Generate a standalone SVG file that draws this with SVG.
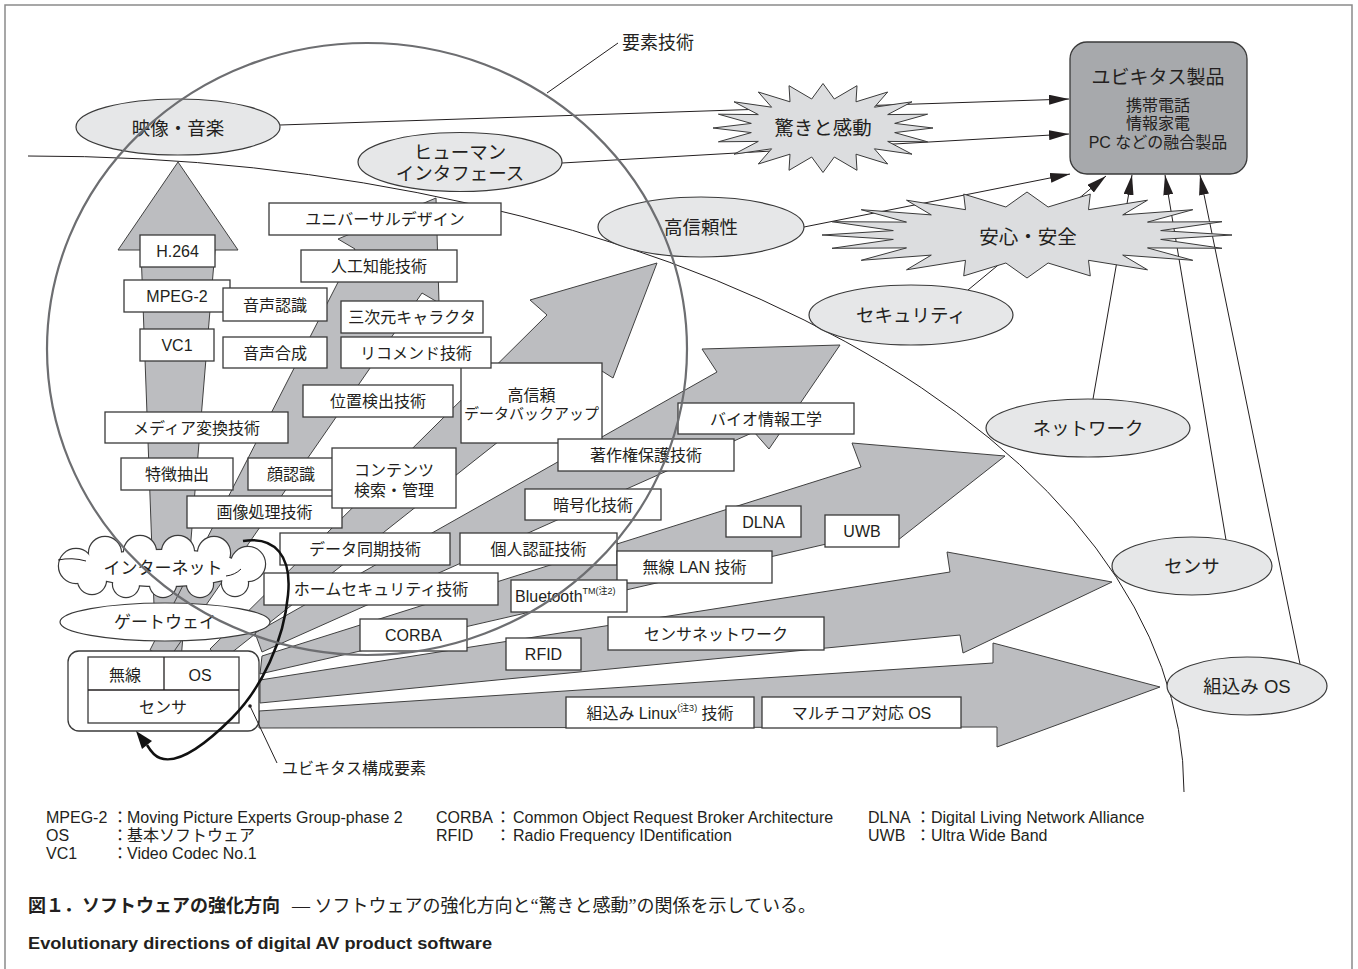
<svg xmlns="http://www.w3.org/2000/svg" width="1358" height="969" viewBox="0 0 1358 969">
<defs>
<style>
.t{font-family:'Liberation Sans','Noto Sans CJK JP',sans-serif;font-size:16px;fill:#231f20;text-anchor:middle}
.tl{font-family:'Liberation Sans','Noto Sans CJK JP',sans-serif;font-size:16px;fill:#231f20}
.big{font-size:18.5px}
.box{fill:#fff;stroke:#3a3a3a;stroke-width:1.3}
.arr{fill:#bcbdc0;stroke:#404040;stroke-width:1}
.ell{fill:#e6e7e8;stroke:#3a3a3a;stroke-width:1.2}
.star{fill:#dcdddf;stroke:#3a3a3a;stroke-width:1}
.ln{fill:none;stroke:#231f20;stroke-width:1}
</style>
<marker id="ah" markerUnits="userSpaceOnUse" markerWidth="20" markerHeight="10" refX="20" refY="5" orient="auto"><path d="M0,0 L20,5 L0,10 Z" fill="#231f20"/></marker>
<g id="cloudShape">
<circle cx="76" cy="566" r="17"/><circle cx="105" cy="553" r="16"/><circle cx="140" cy="552" r="16"/><circle cx="178" cy="552" r="16"/><circle cx="214" cy="553" r="16"/><circle cx="248" cy="564" r="17"/><circle cx="235" cy="583" r="13"/><circle cx="200" cy="584" r="13"/><circle cx="163" cy="584" r="13"/><circle cx="126" cy="584" r="13"/><circle cx="92" cy="580" r="14"/><ellipse cx="163" cy="568" rx="80" ry="18"/>
</g>
</defs>
<rect x="5" y="5" width="1347" height="975" fill="#fff" stroke="#8a8a8a" stroke-width="1.5"/>

<g id="connectors">
<path class="ln" d="M28,156 A1152,636 0 0 1 1184,792"/>
<line class="ln" x1="547" y1="93" x2="618" y2="43"/>
<line class="ln" x1="280" y1="125" x2="1069" y2="99" marker-end="url(#ah)"/>
<line class="ln" x1="562" y1="163" x2="1069" y2="134" marker-end="url(#ah)"/>
<line class="ln" x1="804" y1="227" x2="1070" y2="174" marker-end="url(#ah)"/>
<line class="ln" x1="968" y1="290" x2="1106" y2="176" marker-end="url(#ah)"/>
<line class="ln" x1="1093" y1="399" x2="1132" y2="175" marker-end="url(#ah)"/>
<line class="ln" x1="1226" y1="540" x2="1165" y2="175" marker-end="url(#ah)"/>
<line class="ln" x1="1300" y1="664" x2="1200" y2="175" marker-end="url(#ah)"/>
</g>

<g id="bigArrows">
<polygon class="arr" points="156,660 141,250 118,250 178,162 238,250 215,250 181,660"/>
<polygon class="arr" points="150,650 355,249 338,239 436,198 439,303 422,293 168,660"/>
<polygon class="arr" points="210,649 547,315 530,300 657,263 613,378 594,366 221,661"/>
<polygon class="arr" points="255,633 717,372 702,349 840,345 769,449 754,432 262,652"/>
<polygon class="arr" points="262,656 861,467 852,443 1005,456 893,544 870,534 260,674"/>
<polygon class="arr" points="260,680 950,572 947,552 1112,582 963,653 960,635 260,703"/>
<polygon class="arr" points="259,711 993,663 993,643 1160,687 997,747 997,727 259,728"/>
</g>

<g id="n-eizo"><ellipse class="ell" cx="178" cy="127" rx="102" ry="28"/><text class="t big" x="178" y="135">映像・音楽</text></g>
<g id="n-human"><ellipse class="ell" cx="460" cy="162" rx="102" ry="29.5"/><text class="t big" x="460" y="159">ヒューマン</text><text class="t big" x="460" y="180">インタフェース</text></g>
<g id="n-koshinrai"><ellipse class="ell" cx="701" cy="227" rx="103" ry="30"/><text class="t big" x="701" y="234">高信頼性</text></g>
<g id="n-security"><ellipse class="ell" cx="911" cy="315" rx="102" ry="30"/><text class="t big" x="911" y="322">セキュリティ</text></g>
<g id="n-network"><ellipse class="ell" cx="1088" cy="428" rx="102" ry="29"/><text class="t big" x="1088" y="435">ネットワーク</text></g>
<g id="n-sensor"><ellipse class="ell" cx="1192" cy="566" rx="80" ry="29"/><text class="t big" x="1192" y="573">センサ</text></g>
<g id="n-embos"><ellipse class="ell" cx="1247" cy="686" rx="80" ry="29"/><text class="t big" x="1247" y="693">組込み OS</text></g>

<g id="n-odoroki">
<polygon class="star" points="933,128 894.7,132.6 927.6,141.8 887.7,141.4 912,154.2 874.4,148.8 887.7,164 856,154.2 857,170.3 834.3,157 823,172.5 811.7,157 789,170.3 790,154.2 758.3,164 771.6,148.8 734,154.2 758.3,141.4 718.4,141.8 751.3,132.6 713,128 751.3,123.4 718.4,114.2 758.3,114.6 734,101.8 771.6,107.2 758.3,92 790,101.8 789,85.7 811.7,99 823,83.5 834.3,99 857,85.7 856,101.8 887.7,92 874.4,107.2 912,101.8 887.7,114.6 927.6,114.2 894.7,123.4"/>
<text class="t" style="font-size:19.5px" x="823" y="135">驚きと感動</text>
</g>
<g id="n-anshin">
<polygon class="star" points="1232,235 1160.7,239.4 1222,248.3 1147.5,247.9 1192.8,260.3 1122.7,255.1 1147.5,269.8 1088.5,260.3 1090.3,275.9 1048.1,263 1027,278 1005.9,263 963.7,275.9 965.5,260.3 906.5,269.8 931.3,255.1 861.2,260.3 906.5,247.9 832,248.3 893.3,239.4 822,235 893.3,230.6 832,221.7 906.5,222.1 861.2,209.7 931.3,214.9 906.5,200.2 965.5,209.7 963.7,194.1 1005.9,207 1027,192 1048.1,207 1090.3,194.1 1088.5,209.7 1147.5,200.2 1122.7,214.9 1192.8,209.7 1147.5,222.1 1222,221.7 1160.7,230.6"/>
<text class="t" style="font-size:19.5px" x="1028" y="244">安心・安全</text>
</g>

<g id="n-product">
<rect x="1070" y="42" width="177" height="132" rx="17" fill="#a7a9ac" stroke="#3a3a3a" stroke-width="1.3"/>
<text class="t" style="font-size:19px" x="1158" y="84">ユビキタス製品</text>
<text class="t" x="1158" y="111">携帯電話</text>
<text class="t" x="1158" y="129">情報家電</text>
<text class="t" x="1158" y="148">PC などの融合製品</text>
</g>

<g id="n-univ"><rect class="box" x="269" y="203" width="232" height="32"/><text class="t" x="385" y="225">ユニバーサルデザイン</text></g>
<g id="n-h264"><rect class="box" x="140" y="235" width="75" height="32"/><text class="t" x="177.5" y="257">H.264</text></g>
<g id="n-ai"><rect class="box" x="301" y="250" width="156" height="32"/><text class="t" x="379" y="272">人工知能技術</text></g>
<g id="n-mpeg2"><rect class="box" x="124" y="280" width="106" height="32"/><text class="t" x="177" y="302">MPEG-2</text></g>
<g id="n-onsei-ninshiki"><rect class="box" x="223" y="288" width="104" height="33"/><text class="t" x="275" y="310.5">音声認識</text></g>
<g id="n-3d"><rect class="box" x="341" y="301" width="142" height="32"/><text class="t" x="412" y="323">三次元キャラクタ</text></g>
<g id="n-vc1"><rect class="box" x="140" y="329" width="74" height="32"/><text class="t" x="177" y="351">VC1</text></g>
<g id="n-onsei-gosei"><rect class="box" x="223" y="337" width="104" height="31"/><text class="t" x="275" y="358.5">音声合成</text></g>
<g id="n-backup"><rect class="box" x="461" y="363" width="141" height="80"/><text class="t" x="531.5" y="401">高信頼</text><text class="t" style="font-size:15px" x="531.5" y="419">データバックアップ</text></g>
<g id="n-recommend"><rect class="box" x="341" y="337" width="150" height="31"/><text class="t" x="416" y="358.5">リコメンド技術</text></g>
<g id="n-ichi"><rect class="box" x="303" y="385" width="150" height="32"/><text class="t" x="378" y="407">位置検出技術</text></g>
<g id="n-media"><rect class="box" x="105" y="412" width="183" height="31"/><text class="t" x="196.5" y="433.5">メディア変換技術</text></g>
<g id="n-bio"><rect class="box" x="678" y="403" width="176" height="31"/><text class="t" x="766" y="424.5">バイオ情報工学</text></g>
<g id="n-copyright"><rect class="box" x="558" y="439" width="176" height="32"/><text class="t" x="646" y="461">著作権保護技術</text></g>
<g id="n-tokucho"><rect class="box" x="121" y="458" width="112" height="32"/><text class="t" x="177" y="480">特徴抽出</text></g>
<g id="n-kao"><rect class="box" x="248" y="458" width="86" height="32"/><text class="t" x="291" y="480">顔認識</text></g>
<g id="n-gazo"><rect class="box" x="187" y="496" width="155" height="32"/><text class="t" x="264.5" y="518">画像処理技術</text></g>
<g id="n-contents"><rect class="box" x="332" y="448" width="124" height="60"/><text class="t" x="394" y="476">コンテンツ</text><text class="t" x="394" y="496">検索・管理</text></g>
<g id="n-angou"><rect class="box" x="525" y="489" width="136" height="31"/><text class="t" x="593" y="510.5">暗号化技術</text></g>
<g id="n-dlna"><rect class="box" x="726" y="506" width="75" height="31"/><text class="t" x="763.5" y="527.5">DLNA</text></g>
<g id="n-uwb"><rect class="box" x="825" y="515" width="74" height="32"/><text class="t" x="862" y="537">UWB</text></g>
<g id="n-dougi"><rect class="box" x="280" y="533" width="170" height="32"/><text class="t" x="365" y="555">データ同期技術</text></g>
<g id="n-kojin"><rect class="box" x="460" y="533" width="157" height="32"/><text class="t" x="538.5" y="555">個人認証技術</text></g>
<g id="n-wlan"><rect class="box" x="617" y="551" width="155" height="32"/><text class="t" x="694.5" y="573">無線 LAN 技術</text></g>
<g id="n-home"><rect class="box" x="264" y="573" width="234" height="32"/><text class="t" x="381" y="595">ホームセキュリティ技術</text></g>
<g id="n-bt"><rect class="box" x="511" y="580" width="116" height="32"/><text class="tl" x="515" y="602">Bluetooth<tspan style="font-size:9px" dy="-8">TM</tspan><tspan style="font-size:9px">(注2)</tspan></text></g>
<g id="n-corba"><rect class="box" x="360" y="619" width="107" height="32"/><text class="t" x="413.5" y="641">CORBA</text></g>
<g id="n-sensornet"><rect class="box" x="608" y="617" width="216" height="33"/><text class="t" x="716" y="639.5">センサネットワーク</text></g>
<g id="n-rfid"><rect class="box" x="506" y="638" width="75" height="32"/><text class="t" x="543.5" y="660">RFID</text></g>
<g id="n-linux"><rect class="box" x="566" y="697" width="188" height="31"/><text class="t" x="660" y="718.5">組込み Linux<tspan style="font-size:9px" dy="-8">(注3)</tspan><tspan dy="8"> 技術</tspan></text></g>
<g id="n-multicore"><rect class="box" x="762" y="697" width="199" height="31"/><text class="t" x="861.5" y="718.5">マルチコア対応 OS</text></g>

<g id="n-internet">
<use href="#cloudShape" fill="#fff" stroke="#3a3a3a" stroke-width="2.4"/>
<use href="#cloudShape" fill="#fff" stroke="none"/>
<path class="ln" d="M58,560 q14,-3 28,1"/>
<path class="ln" d="M226,576 q9,-1 15,-7"/>
<text class="t" style="font-size:17px" x="163" y="574">インターネット</text>
</g>
<g id="n-gateway"><ellipse cx="165" cy="622" rx="105" ry="19" fill="#fff" stroke="#3a3a3a" stroke-width="1.2"/><text class="t" style="font-size:17px" x="165" y="628">ゲートウェイ</text></g>

<g id="n-ubiq">
<rect x="68" y="651" width="191" height="80" rx="11" fill="#fff" stroke="#3a3a3a" stroke-width="1.3"/>
<rect x="88" y="657" width="151" height="66" fill="#fff" stroke="#3a3a3a" stroke-width="1.3"/>
<line class="ln" x1="88" y1="690" x2="239" y2="690" style="stroke-width:1.3"/>
<line class="ln" x1="164" y1="657" x2="164" y2="690" style="stroke-width:1.3"/>
<text class="t" x="125" y="681">無線</text>
<text class="t" x="200" y="681">OS</text>
<text class="t" x="163" y="713">センサ</text>
<circle cx="250" cy="706" r="1.8" fill="#231f20"/>
<line class="ln" x1="250" y1="706" x2="277" y2="763"/>
<text class="tl" x="282" y="774">ユビキタス構成要素</text>
</g>

<g id="cycle">
<path d="M243,541 C275,536 292,556 288,595 C284,640 262,688 232,718 C205,745 178,765 160,758 C154,756 150,750 147,745" fill="none" stroke="#111" stroke-width="2.5"/>
<polygon points="136,731 152,741 142,749" fill="#111"/>
</g>

<g id="n-yoso">
<ellipse cx="367" cy="349" rx="320" ry="306" fill="none" stroke="#6d6e71" stroke-width="2.2"/>
<text class="tl" style="font-size:18px" x="622" y="49">要素技術</text>
</g>

<g id="legend" class="tl">
<text class="tl" x="46" y="823">MPEG-2</text><text class="tl" x="112" y="823">：</text><text class="tl" x="127" y="823">Moving Picture Experts Group-phase 2</text>
<text class="tl" x="46" y="841">OS</text><text class="tl" x="112" y="841">：</text><text class="tl" x="127" y="841">基本ソフトウェア</text>
<text class="tl" x="46" y="859">VC1</text><text class="tl" x="112" y="859">：</text><text class="tl" x="127" y="859">Video Codec No.1</text>
<text class="tl" x="436" y="823">CORBA</text><text class="tl" x="495" y="823">：</text><text class="tl" x="513" y="823">Common Object Request Broker Architecture</text>
<text class="tl" x="436" y="841">RFID</text><text class="tl" x="495" y="841">：</text><text class="tl" x="513" y="841">Radio Frequency IDentification</text>
<text class="tl" x="868" y="823">DLNA</text><text class="tl" x="915" y="823">：</text><text class="tl" x="931" y="823">Digital Living Network Alliance</text>
<text class="tl" x="868" y="841">UWB</text><text class="tl" x="915" y="841">：</text><text class="tl" x="931" y="841">Ultra Wide Band</text>
</g>

<g id="caption">
<text class="tl" x="28" y="912" style="font-size:18px;font-weight:bold">図１．ソフトウェアの強化方向</text>
<text x="292" y="912" style="font-family:'Liberation Serif','Noto Sans CJK JP',serif;font-size:18px;fill:#231f20">— ソフトウェアの強化方向と“驚きと感動”の関係を示している。</text>
<text class="tl" x="28" y="949" style="font-size:17px;font-weight:bold" textLength="464" lengthAdjust="spacingAndGlyphs">Evolutionary directions of digital AV product software</text>
</g>
</svg>
